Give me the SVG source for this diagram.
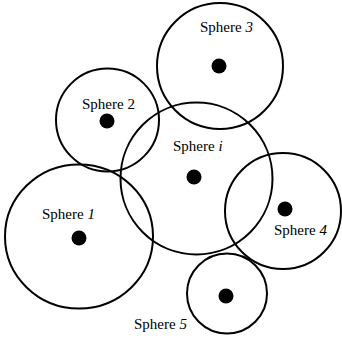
<svg xmlns="http://www.w3.org/2000/svg" width="342" height="339" viewBox="0 0 342 339">
<style>
.c{fill:none;stroke:#000;stroke-width:2}
.d{fill:#000}
.t{font-family:"Liberation Serif","Times New Roman",serif;font-size:15px;fill:#000}
.i{font-style:italic}
</style>
<rect width="342" height="339" fill="#fff"/>
<g id="sphere3"><circle class="c" cx="220" cy="66" r="63"/><circle class="d" cx="219" cy="66" r="7.5"/><text class="t" x="200" y="32">Sphere <tspan class="i">3</tspan></text></g>
<g id="sphere2"><circle class="c" cx="107.5" cy="120" r="51.5"/><circle class="d" cx="107" cy="121" r="7.5"/><text class="t" x="82" y="109">Sphere 2</text></g>
<g id="spherei"><circle class="c" cx="196.5" cy="178.5" r="76"/><circle class="d" cx="194" cy="177" r="7.5"/><text class="t" x="173" y="151">Sphere <tspan class="i">i</tspan></text></g>
<g id="sphere1"><ellipse class="c" cx="79" cy="236.5" rx="74" ry="72"/><circle class="d" cx="79" cy="238" r="7.5"/><text class="t" x="42" y="219">Sphere <tspan class="i">1</tspan></text></g>
<g id="sphere4"><circle class="c" cx="283" cy="211" r="58"/><circle class="d" cx="285" cy="209" r="7.5"/><text class="t" x="274" y="235">Sphere <tspan class="i">4</tspan></text></g>
<g id="sphere5"><circle class="c" cx="227" cy="293.5" r="40"/><circle class="d" cx="226" cy="296" r="7.5"/><text class="t" x="134" y="329">Sphere <tspan class="i">5</tspan></text></g>
<g id="connectors"/>
</svg>
